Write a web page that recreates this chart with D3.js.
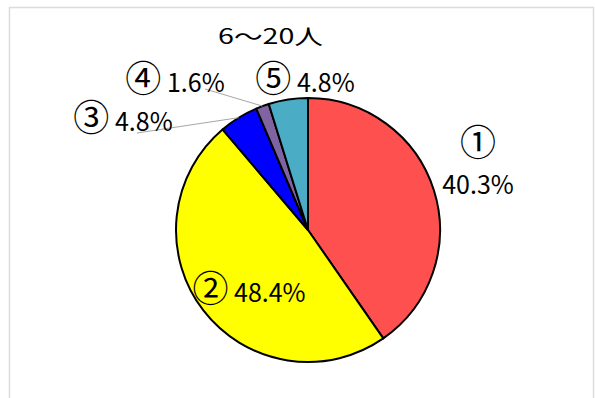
<!DOCTYPE html>
<html>
<head>
<meta charset="utf-8">
<script src="https://cdn.jsdelivr.net/npm/d3@7"></script>
<style>
  body { margin: 0; background: #fff; }
  svg { display: block; font-family: "Noto Sans CJK JP", "Noto Sans", sans-serif; }
</style>
</head>
<body>
<svg id="pie" width="595" height="398"></svg>
<script>
var categories = ["①", "②", "③", "④", "⑤"];
var percents = [40.3, 48.4, 4.8, 1.6, 4.8];
var colors = ["#ff5050", "#ffff00", "#0000ff", "#8064a2", "#4bacc6"];
var title = "6～20人";

var svg = d3.select("#pie"),
  cx = 308,
  cy = 230,
  radius = 132;

// chart frame
svg.append("rect")
  .attr("x", 9.5)
  .attr("y", 7.5)
  .attr("width", 584)
  .attr("height", 400)
  .attr("fill", "none")
  .attr("stroke", "#dcdcdc")
  .attr("stroke-width", 1.5);

svg.append("text")
  .attr("x", 218)
  .attr("y", 44)
  .attr("font-size", 21)
  .attr("textLength", 105)
  .attr("lengthAdjust", "spacingAndGlyphs")
  .attr("fill", "#000")
  .text(title);

var data = categories.map(function(c, i) {
  return { key: c, value: percents[i], color: colors[i] };
});

var pie = d3.pie().sort(null).value(function(d) { return d.value; });
var arc = d3.arc().innerRadius(0).outerRadius(radius);
var edgeArc = d3.arc().innerRadius(radius).outerRadius(radius);

var arcs = pie(data);

var g = svg.append("g").attr("transform", "translate(" + cx + "," + cy + ")");

g.selectAll("path")
  .data(arcs)
  .enter().append("path")
  .attr("d", arc)
  .attr("fill", function(d) { return d.data.color; })
  .attr("stroke", "#000")
  .attr("stroke-width", 2)
  .attr("stroke-linejoin", "round");

// label layout (relative to pie centre): anchor x, baseline y, leader start
var labelPos = [
  { x: 170, y: -36, two: true },
  { x: -59, y: 72 },
  { x: -185, y: -99, lx: -171, ly: -97 },
  { x: -133, y: -138, lx: -103, ly: -141 },
  { x: -3, y: -138 }
];

var labels = svg.append("g").attr("transform", "translate(" + cx + "," + cy + ")");

arcs.forEach(function(d, i) {
  var p = labelPos[i];
  if (p.lx !== undefined) {
    var e = edgeArc.centroid(d);
    labels.append("line")
      .attr("x1", p.lx)
      .attr("y1", p.ly)
      .attr("x2", e[0])
      .attr("y2", e[1])
      .attr("stroke", "#a6a6a6")
      .attr("stroke-width", 1);
  }
  var t = labels.append("text")
    .attr("font-size", 25)
    .attr("fill", "#000")
    .attr("text-anchor", "middle");
  if (p.two) {
    t.append("tspan").attr("x", p.x).attr("y", p.y - 38).attr("font-size", 36).text(d.data.key);
    t.append("tspan").attr("x", p.x).attr("y", p.y).text(d.data.value.toFixed(1) + "%");
  } else {
    t.attr("x", p.x).attr("y", p.y);
    t.append("tspan").attr("font-size", 36).text(d.data.key);
    t.append("tspan").text(" " + d.data.value.toFixed(1) + "%");
  }
});
</script>
</body>
</html>
